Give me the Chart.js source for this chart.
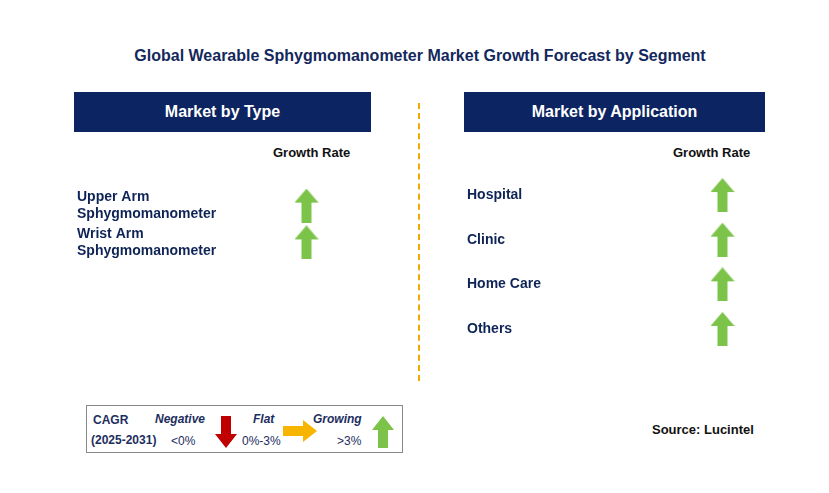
<!DOCTYPE html>
<html lang="en">
<head>
<meta charset="UTF-8">
<title>Wearable Sphygmomanometer Market</title>
<script src="https://cdn.jsdelivr.net/npm/chart.js@4"></script>
<style>
  body { margin:0; width:829px; height:493px; background:#fff; position:relative; font-family:Arial, "Liberation Sans", sans-serif; color:#0f2456; overflow:hidden; }
  .abs { position:absolute; }
  .title { left:0; width:840px; top:47px; text-align:center; font-weight:bold; font-size:16px; color:#13285c; }
  .hdr { background:#0c2461; color:#fff; font-weight:bold; font-size:16px; text-align:center; line-height:40px; height:40px; top:92px; }
  .gr { font-weight:bold; font-size:13px; color:#111; }
  .vline { left:418px; top:103px; height:278px; border-left:2px dashed #f2a900; }
  .legend { left:86px; top:405px; width:315px; height:46px; border:1px solid #888; font-size:12px; }
  .legend span { position:absolute; }
</style>
</head>
<body>
<div class="abs title">Global Wearable Sphygmomanometer Market Growth Forecast by Segment</div>
<div class="abs hdr" style="left:74px;width:297px">Market by Type</div>
<div class="abs hdr" style="left:464px;width:301px">Market by Application</div>
<div class="abs gr" style="left:273px;top:145px">Growth Rate</div>
<div class="abs gr" style="left:673px;top:145px">Growth Rate</div>
<div class="abs vline"></div>

<div class="abs" style="left:77px;top:152px;width:306px;height:144px"><canvas id="typeChart"></canvas></div>
<div class="abs" style="left:467px;top:142px;width:338px;height:240px"><canvas id="appChart"></canvas></div>

<div class="abs legend">
  <span style="left:6px;top:7px;font-weight:bold;color:#1c2e5e">CAGR</span>
  <span style="left:4px;top:27px;font-weight:bold;color:#1c2e5e">(2025-2031)</span>
  <span style="left:68px;top:6px;font-weight:bold;font-style:italic;color:#1c2e5e">Negative</span>
  <span style="left:84px;top:28px;color:#1c2e5e">&lt;0%</span>
  <span style="left:166px;top:6px;font-weight:bold;font-style:italic;color:#1c2e5e">Flat</span>
  <span style="left:155px;top:28px;color:#1c2e5e">0%-3%</span>
  <span style="left:226px;top:6px;font-weight:bold;font-style:italic;color:#1c2e5e">Growing</span>
  <span style="left:250px;top:28px;color:#1c2e5e">&gt;3%</span>
  <svg style="position:absolute;left:128px;top:10px" width="22" height="32"><polygon points="6,0 16,0 16,18 22,18 11,32 0,18 6,18" fill="#c00000"/></svg>
  <svg style="position:absolute;left:196px;top:14px" width="34" height="22"><polygon points="0,6 20,6 20,0 34,11 20,22 20,16 0,16" fill="#f7b500"/></svg>
  <svg style="position:absolute;left:285px;top:10px" width="22" height="32"><polygon points="11,0 22,14 16,14 16,32 6,32 6,14 0,14" fill="#7cc34a"/></svg>
</div>
<div class="abs" style="left:652px;top:422px;font-weight:bold;font-size:13px;color:#111">Source: Lucintel</div>

<script>
var typeCategories = [['Upper Arm', 'Sphygmomanometer'], ['Wrist Arm', 'Sphygmomanometer']];
var typeGrowth = ['Growing', 'Growing'];
var appCategories = ['Hospital', 'Clinic', 'Home Care', 'Others'];
var appGrowth = ['Growing', 'Growing', 'Growing', 'Growing'];

function makeArrow() {
    var c = document.createElement('canvas');
    c.width = 24; c.height = 34;
    var g = c.getContext('2d');
    g.fillStyle = '#7cc34a';
    g.beginPath();
    g.moveTo(12, 0); g.lineTo(24, 14); g.lineTo(17, 14); g.lineTo(17, 34);
    g.lineTo(7, 34); g.lineTo(7, 14); g.lineTo(0, 14); g.closePath();
    g.fill();
    return c;
}
var arrow = makeArrow();

function build(id, cats, growth, axisWidth) {
    new Chart(document.getElementById(id), {
        type: 'scatter',
        data: {
            datasets: [{
                data: cats.map(function (c, i) { return { x: growth[i], y: i }; }),
                pointStyle: arrow,
                clip: false
            }]
        },
        options: {
            responsive: true,
            maintainAspectRatio: false,
            animation: false,
            layout: { padding: 0 },
            plugins: { legend: { display: false }, tooltip: { enabled: false } },
            scales: {
                x: { type: 'category', labels: ['Growing'], offset: true, display: false },
                y: {
                    type: 'linear', min: -1, max: cats.length, reverse: true,
                    grid: { display: false }, border: { display: false },
                    afterFit: function (s) { s.width = axisWidth; },
                    afterBuildTicks: function (s) { s.ticks = cats.map(function (c, i) { return { value: i }; }); },
                    ticks: {
                        crossAlign: 'far', padding: 0,
                        color: '#0f2456', font: { family: 'Arial', size: 14, weight: 'bold' },
                        callback: function (v) { return cats[v]; }
                    }
                }
            }
        }
    });
}
build('typeChart', typeCategories, typeGrowth, 158);
build('appChart', appCategories, appGrowth, 178);
</script>
</body>
</html>
